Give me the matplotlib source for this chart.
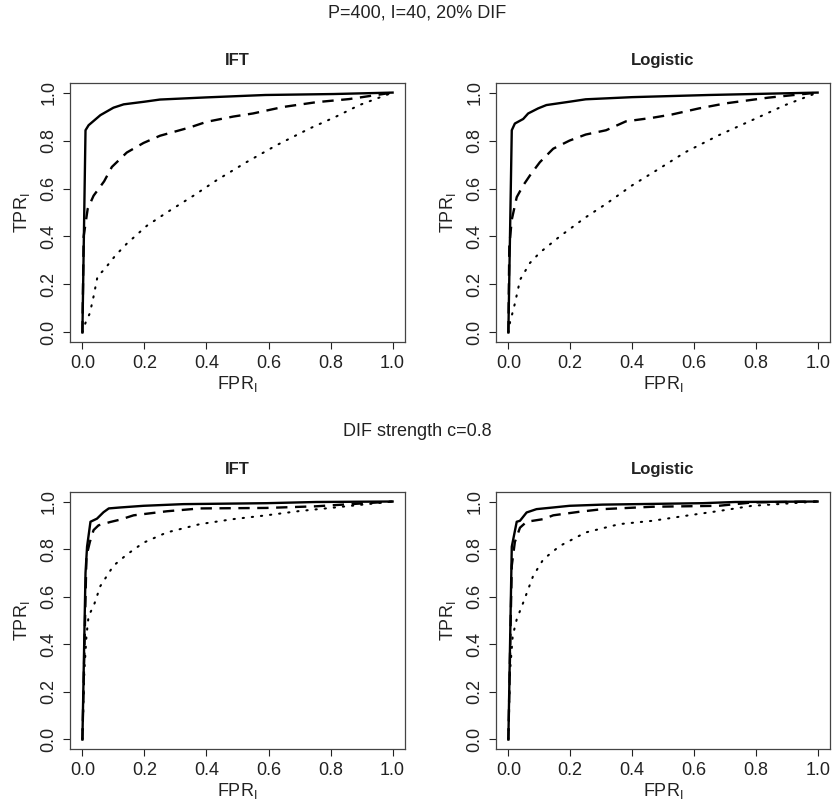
import matplotlib
matplotlib.use("Agg")
import matplotlib.pyplot as plt

plt.rcParams['font.family'] = ['Liberation Sans', 'DejaVu Sans']
plt.rcParams['mathtext.fontset'] = 'custom'
plt.rcParams['mathtext.rm'] = 'Liberation Sans'

# top row: P=400, I=40, 20% DIF
ift1_solid_x = [0, 0.01, 0.02, 0.058, 0.10, 0.133, 0.2, 0.25, 0.4, 0.59, 0.81, 1.0]
ift1_solid_y = [0, 0.843, 0.864, 0.906, 0.937, 0.951, 0.962, 0.971, 0.98, 0.99, 0.994, 1.0]
ift1_dash_x = [0, 0.004, 0.017, 0.036, 0.07, 0.095, 0.143, 0.197, 0.25, 0.347, 0.4, 0.486, 0.55, 0.647, 0.754, 0.86, 1.0]
ift1_dash_y = [0, 0.40, 0.515, 0.57, 0.63, 0.69, 0.75, 0.79, 0.82, 0.855, 0.878, 0.90, 0.913, 0.94, 0.96, 0.973, 1.0]
ift1_dot_x = [0, 0.01, 0.024, 0.036, 0.049, 0.069, 0.106, 0.143, 0.208, 0.272, 0.358, 0.432, 0.529, 0.625, 0.732, 0.818, 0.893, 1.0]
ift1_dot_y = [0, 0.04, 0.08, 0.15, 0.235, 0.26, 0.32, 0.37, 0.445, 0.50, 0.57, 0.634, 0.71, 0.78, 0.85, 0.90, 0.948, 1.0]

log1_solid_x = [0, 0.011, 0.021, 0.048, 0.064, 0.096, 0.123, 0.198, 0.25, 0.40, 0.648, 1.0]
log1_solid_y = [0, 0.843, 0.871, 0.89, 0.913, 0.934, 0.948, 0.962, 0.972, 0.981, 0.99, 1.0]
log1_dash_x = [0, 0.003, 0.011, 0.027, 0.048, 0.07, 0.102, 0.145, 0.198, 0.25, 0.316, 0.38, 0.466, 0.53, 0.616, 0.702, 0.841, 1.0]
log1_dash_y = [0, 0.36, 0.47, 0.564, 0.613, 0.655, 0.71, 0.766, 0.80, 0.825, 0.843, 0.88, 0.895, 0.909, 0.934, 0.955, 0.979, 1.0]
log1_dot_x = [0, 0.005, 0.021, 0.038, 0.07, 0.102, 0.166, 0.25, 0.316, 0.40, 0.488, 0.573, 0.68, 0.788, 0.895, 1.0]
log1_dot_y = [0, 0.04, 0.12, 0.22, 0.29, 0.333, 0.40, 0.48, 0.536, 0.613, 0.683, 0.752, 0.822, 0.885, 0.948, 1.0]

# bottom row: DIF strength c=0.8
ift2_solid_x = [0, 0.01, 0.015, 0.026, 0.047, 0.068, 0.085, 0.122, 0.197, 0.325, 0.593, 0.754, 1.0]
ift2_solid_y = [0, 0.70, 0.81, 0.915, 0.928, 0.955, 0.971, 0.975, 0.982, 0.989, 0.993, 0.998, 1.0]
ift2_dash_x = [0, 0.013, 0.024, 0.036, 0.052, 0.09, 0.122, 0.165, 0.272, 0.379, 0.593, 0.754, 1.0]
ift2_dash_y = [0, 0.77, 0.83, 0.88, 0.90, 0.914, 0.924, 0.942, 0.959, 0.971, 0.973, 0.98, 1.0]
ift2_dot_x = [0, 0.006, 0.013, 0.02, 0.036, 0.058, 0.10, 0.143, 0.197, 0.272, 0.379, 0.486, 0.593, 0.70, 0.807, 1.0]
ift2_dot_y = [0, 0.28, 0.435, 0.52, 0.56, 0.645, 0.73, 0.777, 0.827, 0.87, 0.905, 0.926, 0.942, 0.96, 0.974, 1.0]

log2_solid_x = [0, 0.011, 0.027, 0.0375, 0.059, 0.091, 0.145, 0.198, 0.305, 0.627, 0.734, 1.0]
log2_solid_y = [0, 0.81, 0.915, 0.919, 0.954, 0.968, 0.975, 0.982, 0.987, 0.993, 0.998, 1.0]
log2_dash_x = [0, 0.011, 0.021, 0.0375, 0.059, 0.113, 0.145, 0.23, 0.305, 0.466, 0.68, 0.788, 1.0]
log2_dash_y = [0, 0.73, 0.83, 0.89, 0.915, 0.926, 0.942, 0.957, 0.968, 0.978, 0.982, 0.996, 1.0]
log2_dot_x = [0, 0.005, 0.014, 0.027, 0.048, 0.08, 0.113, 0.166, 0.25, 0.359, 0.466, 0.573, 0.68, 0.788, 1.0]
log2_dot_y = [0, 0.28, 0.435, 0.505, 0.575, 0.687, 0.757, 0.813, 0.87, 0.905, 0.919, 0.94, 0.96, 0.982, 1.0]

panels = [
    ("IFT", ift1_solid_x, ift1_solid_y, ift1_dash_x, ift1_dash_y, ift1_dot_x, ift1_dot_y),
    ("Logistic", log1_solid_x, log1_solid_y, log1_dash_x, log1_dash_y, log1_dot_x, log1_dot_y),
    ("IFT", ift2_solid_x, ift2_solid_y, ift2_dash_x, ift2_dash_y, ift2_dot_x, ift2_dot_y),
    ("Logistic", log2_solid_x, log2_solid_y, log2_dash_x, log2_dash_y, log2_dot_x, log2_dot_y),
]

ticks = [0.0, 0.2, 0.4, 0.6, 0.8, 1.0]
W, H = 835, 805
fig = plt.figure(figsize=(W / 100, H / 100), dpi=100)

# axes boxes in pixels: left, top, right, bottom
boxes = [(70, 83, 405, 342), (496, 83, 830, 342), (70, 492, 405, 749), (496, 492, 830, 749)]
ink = '#222222'
for (title, sx, sy, dx, dy, ox, oy), (l, t, r, b) in zip(panels, boxes):
    ax = fig.add_axes([l / W, 1 - b / H, (r - l) / W, (b - t) / H])
    ax.plot(sx, sy, color='black', lw=1.7, solid_joinstyle='round')
    ax.plot(dx, dy, color='black', lw=1.7, dashes=(4.8, 3.2))
    ax.plot(ox, oy, color='black', lw=1.5, dashes=(0.6, 3.8), dash_capstyle='round')
    ax.set_xlim(-0.04, 1.04)
    ax.set_ylim(-0.04, 1.04)
    ax.set_xticks(ticks)
    ax.set_yticks(ticks)
    ax.set_xticklabels([f"{v:.1f}" for v in ticks])
    ax.set_yticklabels([f"{v:.1f}" for v in ticks], rotation=90, va='center')
    ax.tick_params(direction='out', length=5, width=0.8, colors=ink, labelsize=13, pad=4)
    for s in ax.spines.values():
        s.set_color('#444444')
        s.set_linewidth(0.9)
    ax.set_title(title, fontweight='bold', fontsize=12, pad=13, color=ink)
    ax.set_xlabel(r'FPR$_\mathregular{I}$', fontsize=13, labelpad=2, color=ink)
    ax.set_ylabel(r'TPR$_\mathregular{I}$', fontsize=13, labelpad=6, color=ink)

fig.text(0.5, 1 - 13 / H, "P=400, I=40, 20% DIF", ha='center', va='center', fontsize=13, color=ink)
fig.text(0.5, 1 - 432 / H, "DIF strength c=0.8", ha='center', va='center', fontsize=13, color=ink)

fig.savefig("out.png", dpi=100)
